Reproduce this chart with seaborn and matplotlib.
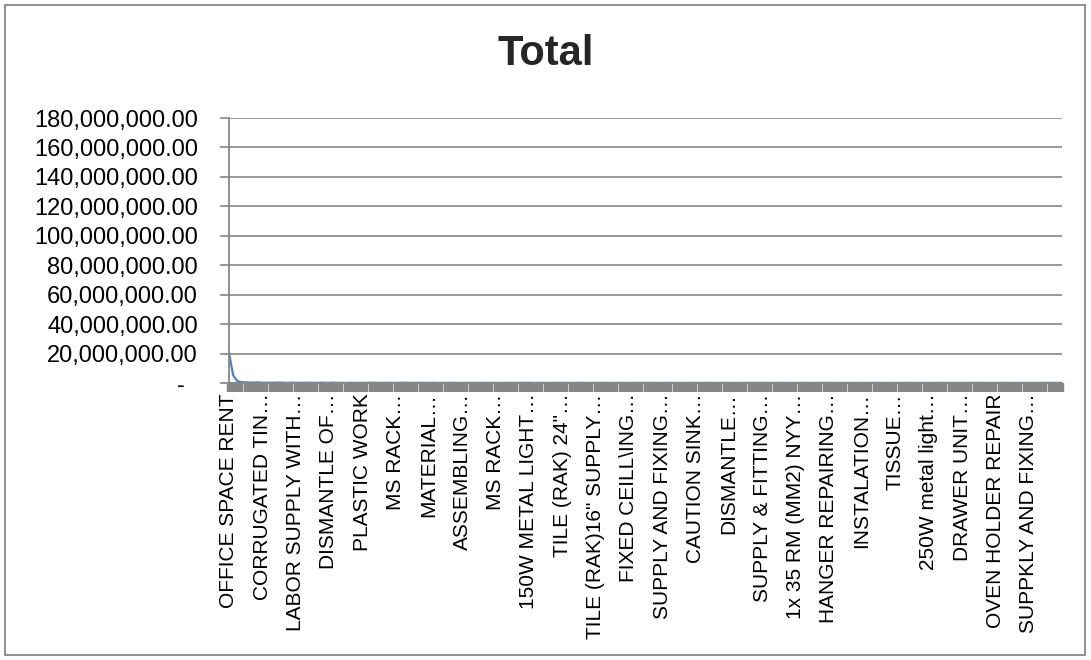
import numpy as np
import pandas as pd
import matplotlib
matplotlib.use("Agg")
import matplotlib.pyplot as plt
from matplotlib.patches import Rectangle
from matplotlib.ticker import FuncFormatter, MultipleLocator
import seaborn as sns

# Cost line items (every 8th item name is printed on the axis)
axis_labels = [
    "OFFICE SPACE RENT", "CORRUGATED TIN…", "LABOR SUPPLY WITH…", "DISMANTLE OF…",
    "PLASTIC WORK", "MS RACK…", "MATERIAL…", "ASSEMBLING…", "MS RACK…",
    "150W METAL LIGHT…", "TILE (RAK) 24\"…", "TILE (RAK)16\" SUPPLY…",
    "FIXED CEILL\\ING…", "SUPPLY AND FIXING…", "CAUTION SINK…", "DISMANTLE…",
    "SUPPLY & FITTING…", "1x 35 RM (MM2) NYY…", "HANGER REPAIRING…",
    "INSTALATION…", "TISSUE…", "250W metal light…", "DRAWER UNIT…",
    "OVEN HOLDER REPAIR", "SUPPKLY AND FIXING…",
]
label_every = 8

# Total per line item
totals = [
    20500000, 5200000, 1300000, 620000, 410000, 350000, 280000, 460000, 190000, 240000,
    215000, 180000, 320000, 150000, 96000, 270000, 130000, 88000, 175000, 240000,
    110000, 64000, 205000, 145000, 92000, 310000, 76000, 120000, 58000, 165000,
    72000, 138000, 94000, 51000, 188000, 126000, 67000, 99000, 143000, 82000,
    56000, 118000, 204000, 73000, 61000, 95000, 152000, 48000, 86000, 131000,
    69000, 42000, 114000, 97000, 158000, 54000, 77000, 121000, 63000, 89000,
    47000, 136000, 71000, 58000, 102000, 84000, 39000, 127000, 66000, 93000,
    52000, 76000, 148000, 44000, 81000, 109000, 57000, 35000, 98000, 70000,
    124000, 46000, 62000, 87000, 53000, 115000, 38000, 79000, 91000, 49000,
    68000, 133000, 41000, 74000, 59000, 104000, 36000, 83000, 65000, 112000,
    45000, 72000, 96000, 33000, 88000, 54000, 119000, 61000, 40000, 78000,
    101000, 50000, 64000, 37000, 92000, 71000, 125000, 43000, 58000, 85000,
    32000, 67000, 106000, 48000, 75000, 39000, 94000, 60000, 117000, 46000,
    70000, 34000, 87000, 55000, 99000, 42000, 63000, 128000, 51000, 80000,
    36000, 73000, 95000, 47000, 62000, 108000, 38000, 84000, 57000, 69000,
    31000, 92000, 52000, 76000, 44000, 113000, 65000, 40000, 86000, 58000,
    98000, 35000, 71000, 49000, 103000, 61000, 30000, 82000, 54000, 90000,
    43000, 67000, 122000, 39000, 74000, 56000, 97000, 33000, 79000, 48000,
    64000, 110000, 41000, 85000, 59000, 37000, 93000, 53000, 72000, 45000,
    88000, 34000, 66000, 105000, 50000, 78000, 42000, 61000, 94000, 55000,
    69000,
]

y_max = 180000000
y_step = 20000000

df = pd.DataFrame({"item": np.arange(len(totals)), "total": totals})

sns.set_theme(style="white")
plt.rcParams["font.family"] = ["Liberation Sans", "DejaVu Sans"]

grey = "#868686"
blue = "#4F81BD"

fig = plt.figure(figsize=(10.91, 6.60), dpi=100)
fig.patch.set_facecolor("white")

# Outer chart frame
fig.add_artist(Rectangle((5 / 1091, 5 / 660), 1080 / 1091, 650 / 660,
                         transform=fig.transFigure, fill=False,
                         edgecolor=grey, linewidth=1.3))

ax = fig.add_axes([229 / 1091, 1 - 383 / 660, 833 / 1091, 265 / 660])

sns.lineplot(data=df, x="item", y="total", ax=ax, color=blue, linewidth=1.6)

ax.set_xlim(0, len(totals) - 1)
ax.set_ylim(0, y_max)
ax.yaxis.set_major_locator(MultipleLocator(y_step))


def money(v, _pos):
    if abs(v) < 0.5:
        return "-  "
    return f"{v:,.2f}"


ax.yaxis.set_major_formatter(FuncFormatter(money))
ax.grid(axis="y", color=grey, linewidth=1.2)
ax.grid(axis="x", visible=False)
ax.set_axisbelow(True)

# one tick per line item, names on every 8th
ax.set_xticks(np.arange(len(axis_labels)) * label_every)
ax.set_xticklabels(axis_labels, rotation=90, ha="center", va="top")
ax.set_xticks(np.arange(len(totals)), minor=True)
ax.tick_params(axis="x", which="both", direction="out", length=6.5, width=3.2,
               color=grey, labelsize=15, pad=1, labelcolor="black")
ax.tick_params(axis="y", which="major", direction="out", length=6.5, width=1.2,
               color=grey, labelsize=17, pad=16, labelcolor="black")
ax.tick_params(left=True, bottom=True)
ax.xaxis.set_tick_params(which="minor", bottom=True)

for side in ("top", "right"):
    ax.spines[side].set_visible(False)
for side in ("left", "bottom"):
    ax.spines[side].set_color(grey)
    ax.spines[side].set_linewidth(1.3)

ax.set_xlabel("")
ax.set_ylabel("")

fig.text(546 / 1091, 1 - 54 / 660, "Total", ha="center", va="center",
         fontsize=30, fontweight="bold")

fig.savefig("out.png", dpi=100)
